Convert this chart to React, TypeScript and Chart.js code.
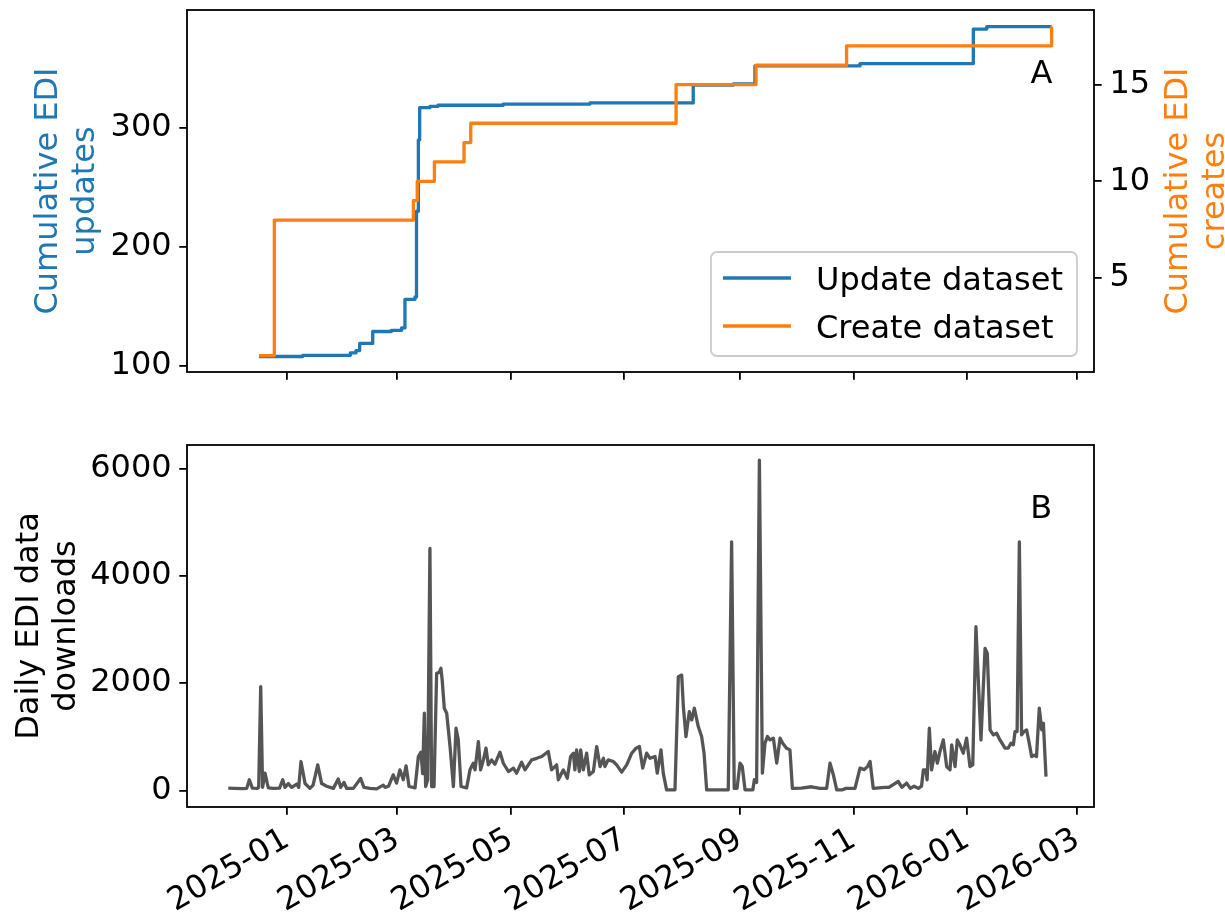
import React, { useEffect, useRef } from 'react';
import { Chart, registerables } from 'chart.js';

Chart.register(...registerables);

// ---------------- data ----------------
// x values are days since 2025-01-01

const xTickLabels = ['2025-01', '2025-03', '2025-05', '2025-07', '2025-09', '2025-11', '2026-01', '2026-03'];

const updateDays = [-15, 8.4, 34, 37, 39, 46, 56, 61.5, 63.3, 68.7, 69.5, 70.5, 71.2, 76.7, 81, 116, 162.6, 218, 239.5, 251.1, 307.5, 368.3, 375.5, 410.3];
const updateCounts = [108, 109, 111, 113, 119, 129, 130, 132, 156, 158, 230, 290, 317, 318, 319, 320, 321, 336, 337, 352, 354, 383, 385, 385];

const createDays = [-15, -6.8, 67.8, 69.9, 79.1, 95, 98.6, 208.8, 251.7, 300.3, 410.3];
const createCounts = [1, 8, 9, 10, 11, 12, 13, 15, 16, 17, 18];

const downloadDays = [
  -31.5, -28, -24, -21.6, -20.2, -18.6, -16, -15.2, -14.1, -13.1, -11.8, -10.5, -10, -7.3, -4, -2.3, -1.1, 0.7, 2.5, 5.2,
  6.3, 7.5, 9.7, 12.3, 14, 16.5, 18.6, 21.3, 24.9, 27.5, 28.8, 30.6, 32, 35.6, 39.5, 41.3, 44.5, 48.1, 51.7, 52.6,
  54.5, 57, 58.8, 60.6, 62.4, 63.9, 65.5, 68.7, 70.5, 71.9, 72.8, 73.7, 74.4, 75.5, 76.7, 77.6, 78.9, 80.3, 81.7, 82.6,
  83.3, 84.4, 85.7, 87.5, 89.3, 90.7, 91.9, 93.4, 96.4, 98.2, 100, 100.9, 102.7, 103.9, 105.4, 106.8, 108, 109.8, 111.6, 114.3,
  116.1, 118.8, 121.5, 123.2, 125.9, 127.7, 131.3, 134, 136.7, 140.2, 142, 144.7, 145.6, 148.3, 150.4, 152.2, 153.7, 154.5, 155.4, 156.9,
  157.6, 159, 160.8, 162.2, 164.4, 166.2, 168, 169.8, 170.6, 172.4, 175.1, 176.9, 179.6, 182.3, 185, 187.3, 189.1, 190.9, 193, 194.8,
  197.5, 198.7, 200.7, 201.9, 203.7, 208.2, 210, 211.8, 212.7, 214.1, 215.9, 217.2, 218.6, 220.7, 222.5, 223.8, 225.2, 228.8, 236.8, 238.6,
  240, 241.5, 243.1, 244.3, 245.8, 250, 250.8, 252, 253.5, 255.1, 256.5, 257.8, 259.2, 261, 262.8, 264.6, 266, 268.1, 269.9, 271.2,
  276, 281.5, 286, 289.6, 291.4, 293.2, 295, 298, 300, 304.8, 307.5, 309.8, 311.6, 312.9, 314.6, 320.9, 323, 328, 330, 332.5,
  334.5, 336.5, 338.8, 340.5, 341.5, 342.8, 343.5, 344.7, 345.9, 347.7, 349, 350.4, 352.2, 354, 355.8, 356.7, 358.5, 359.7, 361.1, 362.9,
  364.7, 366.5, 368, 369.7, 372.4, 374.6, 375.8, 377.3, 379, 380.8, 382.6, 385.3, 387, 388.5, 389.8, 390.7, 391.8, 393, 394.2, 395.5,
  396.9, 398.3, 399.6, 400.9, 402.2, 403.7, 405, 405.9, 407.3,
];
const downloadCounts = [
  45, 40, 35, 40, 200, 45, 40, 60, 1935, 60, 323, 120, 50, 40, 45, 200, 60, 130, 60, 120,
  60, 540, 130, 40, 100, 478, 130, 80, 40, 215, 60, 150, 40, 40, 225, 60, 40, 30, 100, 60,
  80, 292, 137, 385, 200, 460, 75, 50, 633, 714, 313, 1440, 75, 200, 4510, 75, 75, 2184, 2200, 2277,
  2050, 1533, 1440, 819, 75, 1160, 950, 75, 50, 385, 508, 385, 912, 385, 570, 789, 480, 570, 490, 714,
  508, 354, 416, 323, 527, 385, 571, 600, 633, 726, 385, 478, 200, 385, 230, 633, 695, 385, 757, 354,
  757, 385, 695, 290, 354, 819, 447, 600, 447, 571, 540, 478, 342, 478, 695, 789, 819, 416, 695, 600,
  633, 323, 757, 323, 13, 13, 2120, 2150, 1563, 1005, 1470, 1315, 1533, 1191, 1005, 695, 13, 13, 13, 4633,
  40, 40, 510, 450, 13, 13, 200, 150, 6152, 323, 881, 1005, 943, 975, 510, 975, 880, 789, 757, 40,
  45, 70, 40, 40, 510, 290, 13, 13, 40, 40, 416, 390, 450, 540, 40, 60, 60, 168, 60, 138,
  40, 80, 40, 80, 385, 385, 200, 1160, 385, 726, 510, 726, 943, 447, 385, 850, 447, 943, 850, 695,
  975, 447, 478, 3051, 943, 2649, 2555, 1129, 1036, 1067, 943, 789, 789, 880, 850, 1098, 1098, 4633, 1036, 1098,
  1129, 880, 633, 660, 633, 1533, 1129, 1253, 260,
];

const updateTicks = [100, 200, 300];
const createTicks = [5, 10, 15];
const downloadTicks = [0, 2000, 4000, 6000];

// ---------------- styling ----------------
const FONT = "'DejaVu Sans', sans-serif";
const FS = 32;
const BLUE = '#1f77b4';
const ORANGE = '#ff7f0e';
const GREY = '#555555';
const SPINE_W = 1.8;
const TICK_LEN = 7.7;
const LINE_W = 3.3;

const X_MIN = -53.66;
const X_MAX = 433.06;

const dayOf = (ym: string) => {
  const [y, m] = ym.split('-').map(Number);
  return (Date.UTC(y, m - 1, 1) - Date.UTC(2025, 0, 1)) / 86400000;
};
const xTickDays = xTickLabels.map(dayOf);

const zeroPad = (s: any) => {
  s.paddingTop = 0;
  s.paddingBottom = 0;
  s.paddingLeft = 0;
  s.paddingRight = 0;
};

const tickFont = { family: FONT, size: FS };
const tickGrid = {
  display: true,
  drawOnChartArea: false,
  drawTicks: true,
  tickLength: TICK_LEN,
  color: '#000',
  lineWidth: SPINE_W,
};

function xScale(showLabels: boolean, height: number) {
  return {
    type: 'linear',
    position: 'bottom',
    min: X_MIN,
    max: X_MAX,
    afterBuildTicks: (s: any) => {
      s.ticks = xTickDays.map((v) => ({ value: v }));
    },
    afterFit: (s: any) => {
      s.height = height;
      zeroPad(s);
    },
    grid: tickGrid,
    border: { display: false },
    ticks: {
      display: showLabels,
      autoSkip: false,
      minRotation: 30,
      maxRotation: 30,
      padding: 6,
      color: '#000',
      font: tickFont,
      callback: (_v: any, i: number) => xTickLabels[i],
    },
  };
}

function yScale(position: string, min: number, max: number, ticks: number[], width: number, padding: number) {
  return {
    type: 'linear',
    position,
    min,
    max,
    afterBuildTicks: (s: any) => {
      s.ticks = ticks.map((v) => ({ value: v }));
    },
    afterFit: (s: any) => {
      s.width = width;
      zeroPad(s);
    },
    grid: tickGrid,
    border: { display: false },
    ticks: {
      color: '#000',
      font: tickFont,
      padding,
      callback: (v: any) => String(v),
    },
  };
}

type VTitle = { lines: string[]; baselines: number[]; color: string };

function decor(cfg: { titles: VTitle[]; panel: string; legendOrder?: number[] }) {
  return {
    id: 'decor',
    afterDraw(chart: any) {
      const { ctx, chartArea: a } = chart;
      const cy = (a.top + a.bottom) / 2;
      ctx.save();
      ctx.strokeStyle = '#000';
      ctx.lineWidth = SPINE_W;
      ctx.strokeRect(a.left, a.top, a.right - a.left, a.bottom - a.top);
      ctx.font = `${FS}px ${FONT}`;
      for (const t of cfg.titles) {
        t.lines.forEach((line, i) => {
          ctx.save();
          ctx.translate(t.baselines[i], cy);
          ctx.rotate(-Math.PI / 2);
          ctx.fillStyle = t.color;
          ctx.textAlign = 'center';
          ctx.textBaseline = 'alphabetic';
          ctx.fillText(line, 0, 0);
          ctx.restore();
        });
      }
      ctx.fillStyle = '#000';
      ctx.textAlign = 'right';
      ctx.textBaseline = 'alphabetic';
      ctx.fillText(cfg.panel, a.left + 0.954 * (a.right - a.left), a.bottom - 0.798 * (a.bottom - a.top));

      if (cfg.legendOrder) {
        const entries = cfg.legendOrder.map((i) => chart.data.datasets[i]);
        const textW = Math.max(...entries.map((e: any) => ctx.measureText(e.label).width));
        const padL = 12, handleW = 68, gap = 25, padR = 14, rowH = 48;
        const w = padL + handleW + gap + textW + padR;
        const h = 104;
        const right = a.right - 17;
        const bottom = a.bottom - 16;
        const left = right - w;
        const top = bottom - h;
        ctx.beginPath();
        ctx.roundRect(left, top, w, h, 6);
        ctx.fillStyle = 'rgba(255,255,255,0.8)';
        ctx.fill();
        ctx.strokeStyle = '#cccccc';
        ctx.lineWidth = SPINE_W;
        ctx.stroke();
        entries.forEach((e: any, i: number) => {
          const y = top + 26 + i * rowH;
          ctx.beginPath();
          ctx.moveTo(left + padL, y);
          ctx.lineTo(left + padL + handleW, y);
          ctx.strokeStyle = e.borderColor;
          ctx.lineWidth = LINE_W;
          ctx.stroke();
          ctx.fillStyle = '#000';
          ctx.textAlign = 'left';
          ctx.fillText(e.label, left + padL + handleW + gap, y + 11.5);
        });
      }
      ctx.restore();
    },
  };
}

const lineStyle = {
  borderWidth: LINE_W,
  pointRadius: 0,
  pointHoverRadius: 0,
  fill: false,
  tension: 0,
  borderJoinStyle: 'round',
};

export default function App() {
  const topRef = useRef<HTMLCanvasElement>(null);
  const botRef = useRef<HTMLCanvasElement>(null);

  useEffect(() => {
    Chart.defaults.font.family = FONT;
    const top = new Chart(topRef.current!, {
      type: 'line',
      data: {
        datasets: [
          {
            label: 'Update dataset',
            data: updateDays.map((d, i) => ({ x: d, y: updateCounts[i] })),
            borderColor: BLUE,
            yAxisID: 'y',
            stepped: 'before',
            order: 2,
            ...lineStyle,
          },
          {
            label: 'Create dataset',
            data: createDays.map((d, i) => ({ x: d, y: createCounts[i] })),
            borderColor: ORANGE,
            yAxisID: 'y1',
            stepped: 'before',
            order: 1,
            ...lineStyle,
          },
        ],
      } as any,
      options: {
        animation: false,
        responsive: true,
        maintainAspectRatio: false,
        layout: { padding: { top: 10, left: 0, right: 0, bottom: 0 } },
        plugins: { legend: { display: false }, tooltip: { enabled: false } },
        events: [],
        scales: {
          x: xScale(false, 48),
          y: yScale('left', 95, 399, updateTicks, 187, 7.7),
          y1: yScale('right', 0.15, 18.85, createTicks, 131, 7.7),
        } as any,
      },
      plugins: [
        decor({
          titles: [
            { lines: ['Cumulative EDI', 'updates'], baselines: [57, 94], color: BLUE },
            { lines: ['Cumulative EDI', 'creates'], baselines: [1187, 1224], color: ORANGE },
          ],
          panel: 'A',
          legendOrder: [0, 1],
        }),
      ],
    });

    const bot = new Chart(botRef.current!, {
      type: 'line',
      data: {
        datasets: [
          {
            label: 'Daily EDI data downloads',
            data: downloadDays.map((d, i) => ({ x: d, y: downloadCounts[i] })),
            borderColor: GREY,
            yAxisID: 'y',
            ...lineStyle,
          },
        ],
      } as any,
      options: {
        animation: false,
        responsive: true,
        maintainAspectRatio: false,
        layout: { padding: { top: 25, left: 0, right: 131, bottom: 0 } },
        plugins: { legend: { display: false }, tooltip: { enabled: false } },
        events: [],
        scales: {
          x: xScale(true, 108),
          y: yScale('left', -307, 6436, downloadTicks, 187, 7.7),
        } as any,
      },
      plugins: [
        decor({
          titles: [{ lines: ['Daily EDI data', 'downloads'], baselines: [37.5, 74.5], color: '#000' }],
          panel: 'B',
        }),
      ],
    });

    return () => {
      top.destroy();
      bot.destroy();
    };
  }, []);

  return (
    <div style={{ position: 'absolute', left: 0, top: 0, width: 1225, height: 915, background: '#fff' }}>
      <div style={{ position: 'absolute', left: 0, top: 0, width: 1225, height: 420 }}>
        <canvas ref={topRef} />
      </div>
      <div style={{ position: 'absolute', left: 0, top: 420, width: 1225, height: 495 }}>
        <canvas ref={botRef} />
      </div>
    </div>
  );
}
